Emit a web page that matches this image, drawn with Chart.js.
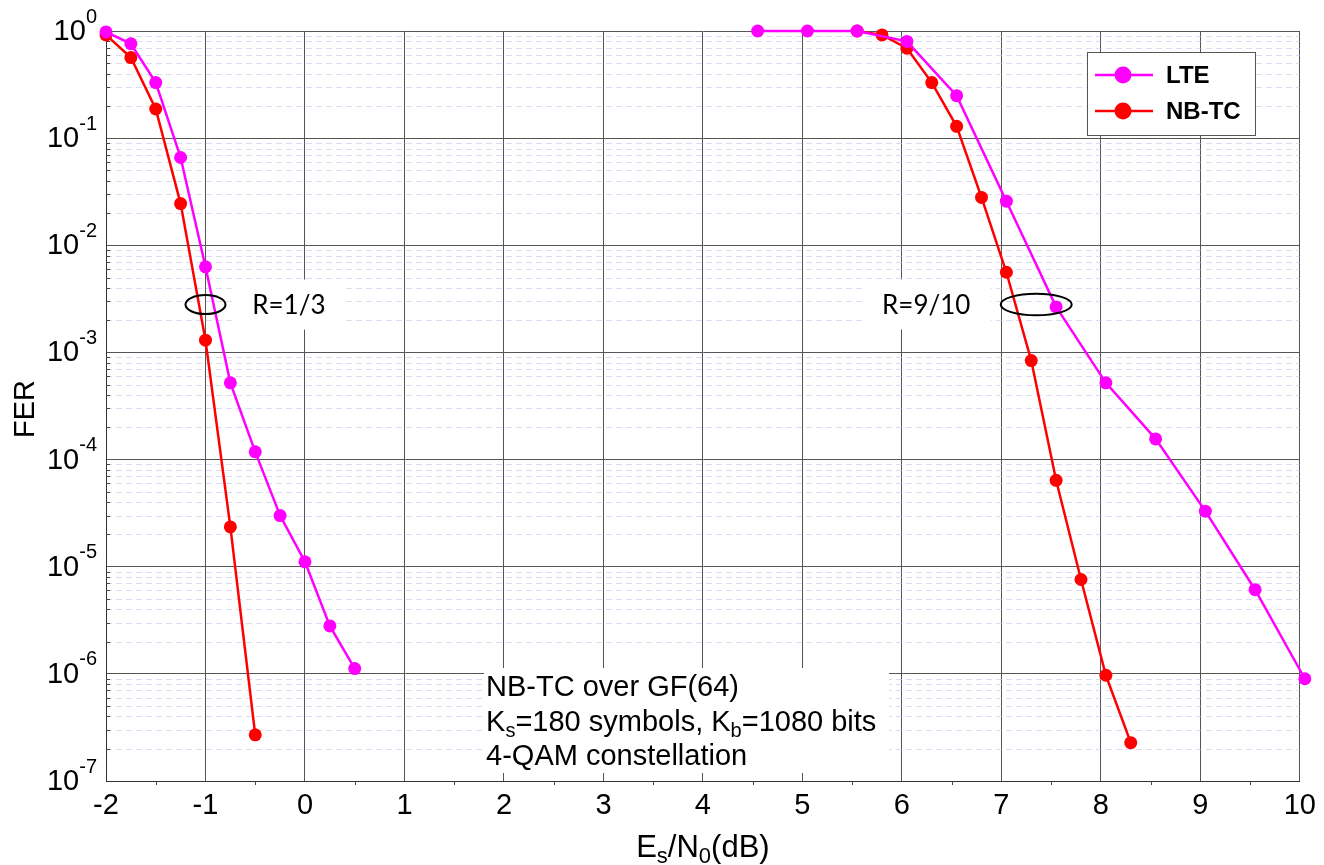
<!DOCTYPE html>
<html>
<head>
<meta charset="utf-8">
<script src="https://cdn.jsdelivr.net/npm/chart.js@4.4.0/dist/chart.umd.min.js"></script>
<style>
html, body { margin: 0; padding: 0; background: #fff; }
</style>
</head>
<body>
<canvas id="fer" width="1324" height="865"></canvas>
<script>
// R = 1/3 curves
var lteX13 = [-2, -1.75, -1.5, -1.25, -1, -0.75, -0.5, -0.25, 0, 0.25, 0.5];
var lteY13 = [0.98, 0.76, 0.33, 0.066, 0.0063, 5.2e-4, 1.18e-4, 3.0e-5, 1.11e-5, 2.8e-6, 1.12e-6];
var nbX13 = [-2, -1.75, -1.5, -1.25, -1, -0.75, -0.5];
var nbY13 = [0.92, 0.565, 0.187, 0.0245, 1.3e-3, 2.35e-5, 2.7e-7];
// R = 9/10 curves
var lteX910 = [4.55, 5.05, 5.55, 6.05, 6.55, 7.05, 7.55, 8.05, 8.55, 9.05, 9.55, 10.05];
var lteY910 = [1, 1, 1, 0.8, 0.249, 0.0258, 2.66e-3, 5.2e-4, 1.56e-4, 3.3e-5, 6.1e-6, 9.0e-7];
var nbX910 = [5.55, 5.8, 6.05, 6.3, 6.55, 6.8, 7.05, 7.3, 7.55, 7.8, 8.05, 8.3];
var nbY910 = [1, 0.92, 0.69, 0.33, 0.129, 0.028, 5.6e-3, 8.4e-4, 6.4e-5, 7.6e-6, 9.7e-7, 2.28e-7];

var xTicks = [-2, -1, 0, 1, 2, 3, 4, 5, 6, 7, 8, 9, 10];
var yExponents = [0, -1, -2, -3, -4, -5, -6, -7];
var seriesNames = ['LTE', 'NB-TC'];
var seriesColors = ['#ff00ff', '#ff0000'];

function pts(xs, ys) {
    return xs.map(function (x, i) { return { x: x, y: ys[i] }; });
}

function ds(label, color, data) {
    return {
        label: label,
        data: data,
        showLine: true,
        borderColor: color,
        backgroundColor: color,
        borderWidth: 2.5,
        pointRadius: 6.5,
        pointBorderWidth: 0,
        clip: false
    };
}

function isMajor(v) {
    var l = Math.log10(v);
    return Math.abs(l - Math.round(l)) < 1e-6;
}

// text with subscripts: parts = [[text, isSub], ...]
function drawRich(ctx, parts, x, y, size, subSize, align) {
    var total = 0;
    parts.forEach(function (p) {
        ctx.font = (p[1] ? subSize : size) + 'px "Liberation Sans", Arial, sans-serif';
        total += ctx.measureText(p[0]).width;
    });
    var cx = align === 'center' ? x - total / 2 : x;
    ctx.textAlign = 'left';
    ctx.textBaseline = 'alphabetic';
    parts.forEach(function (p) {
        ctx.font = (p[1] ? subSize : size) + 'px "Liberation Sans", Arial, sans-serif';
        ctx.fillText(p[0], cx, y + (p[1] ? size * 0.2 : 0));
        cx += ctx.measureText(p[0]).width;
    });
}

var decor = {
    id: 'decor',
    beforeDatasetsDraw: function (chart) {
        var ctx = chart.ctx, xs = chart.scales.x, ys = chart.scales.y, a = chart.chartArea;
        ctx.save();
        // minor dashed grid
        ctx.strokeStyle = 'rgba(195,195,235,0.6)';
        ctx.lineWidth = 1;
        ctx.setLineDash([6, 4]);
        ys.ticks.forEach(function (t) {
            if (isMajor(t.value)) return;
            var y = Math.round(ys.getPixelForValue(t.value)) + 0.5;
            ctx.beginPath(); ctx.moveTo(a.left, y); ctx.lineTo(a.right, y); ctx.stroke();
        });
        ctx.setLineDash([]);
        // minor tick marks
        ctx.strokeStyle = '#444';
        ys.ticks.forEach(function (t) {
            if (isMajor(t.value)) return;
            var y = Math.round(ys.getPixelForValue(t.value)) + 0.5;
            ctx.beginPath(); ctx.moveTo(a.left, y); ctx.lineTo(a.left + 4, y); ctx.stroke();
        });
        for (var v = -1.5; v < 10; v += 1) {
            var px = Math.round(xs.getPixelForValue(v)) + 0.5;
            ctx.beginPath(); ctx.moveTo(px, a.bottom); ctx.lineTo(px, a.bottom + 4); ctx.stroke();
        }
        // white boxes behind annotations
        ctx.fillStyle = '#fff';
        var y3 = ys.getPixelForValue(2.8e-3);
        var l1 = xs.getPixelForValue(-0.53);
        ctx.fillRect(l1 - 16, y3 - 25, 110, 50);
        var l2 = xs.getPixelForValue(5.8);
        ctx.fillRect(l2 - 16, y3 - 25, 125, 50);
        var bx = xs.getPixelForValue(1.82), by = ys.getPixelForValue(7.7e-7);
        ctx.fillRect(bx - 2, by - 18, 405, 105);
        // annotation texts
        ctx.fillStyle = '#000';
        ctx.font = '26px Lato, "Open Sans", sans-serif';
        ctx.textAlign = 'left';
        ctx.textBaseline = 'middle';
        ctx.fillText('R=1/3', l1, y3 + 1);
        ctx.fillText('R=9/10', l2, y3 + 1);
        var fs = 29, ss = 20;
        drawRich(ctx, [['NB-TC over GF(64)', false]], bx, by + 10, fs, ss);
        drawRich(ctx, [['K', false], ['s', true], ['=180 symbols, K', false], ['b', true], ['=1080 bits', false]], bx, by + 45, fs, ss);
        drawRich(ctx, [['4-QAM constellation', false]], bx, by + 79, fs, ss);
        ctx.restore();
    },
    afterDatasetsDraw: function (chart) {
        var ctx = chart.ctx, xs = chart.scales.x, ys = chart.scales.y;
        ctx.save();
        // ellipses
        ctx.strokeStyle = '#000';
        ctx.lineWidth = 2;
        var ey = ys.getPixelForValue(2.8e-3);
        ctx.beginPath();
        ctx.ellipse(xs.getPixelForValue(-1.0), ey, 20, 9.5, 0, 0, Math.PI * 2);
        ctx.stroke();
        ctx.beginPath();
        ctx.ellipse(xs.getPixelForValue(7.35), ey, 35.5, 10.8, 0, 0, Math.PI * 2);
        ctx.stroke();
        // legend box
        var lx = 1087, ly = 52, lw = 168, lh = 83;
        ctx.fillStyle = '#fff';
        ctx.fillRect(lx, ly, lw, lh);
        ctx.strokeStyle = '#555';
        ctx.lineWidth = 1;
        ctx.strokeRect(lx + 0.5, ly + 0.5, lw, lh);
        chart.data.datasets.slice(0, 2).forEach(function (d, i) {
            var y = ly + 23 + i * 36;
            ctx.strokeStyle = d.borderColor;
            ctx.lineWidth = 2.5;
            ctx.beginPath(); ctx.moveTo(lx + 8, y); ctx.lineTo(lx + 66, y); ctx.stroke();
            ctx.fillStyle = d.borderColor;
            ctx.beginPath(); ctx.arc(lx + 36, y, 8.5, 0, Math.PI * 2); ctx.fill();
            ctx.fillStyle = '#000';
            ctx.font = 'bold 24px "Liberation Sans", Arial, sans-serif';
            ctx.textAlign = 'left';
            ctx.textBaseline = 'middle';
            ctx.fillText(d.label, lx + 79, y + 1);
        });
        ctx.restore();
    },
    afterDraw: function (chart) {
        var ctx = chart.ctx, ys = chart.scales.y, a = chart.chartArea;
        ctx.save();
        ctx.fillStyle = '#000';
        // y tick labels 10^k
        yExponents.forEach(function (k) {
            var y = ys.getPixelForValue(Math.pow(10, k));
            var ex = k === 0 ? '0' : '-' + Math.abs(k);
            ctx.textBaseline = 'middle';
            ctx.textAlign = 'right';
            ctx.font = '20px "Liberation Sans", Arial, sans-serif';
            ctx.fillText(ex, a.left - 9, y - 14);
            var w = ctx.measureText(ex).width;
            ctx.font = '29px "Liberation Sans", Arial, sans-serif';
            ctx.fillText('10', a.left - 9 - w, y + 1);
        });
        // y title
        ctx.save();
        ctx.translate(26, (a.top + a.bottom) / 2 + 3);
        ctx.rotate(-Math.PI / 2);
        ctx.font = '29px "Liberation Sans", Arial, sans-serif';
        ctx.textAlign = 'center';
        ctx.textBaseline = 'middle';
        ctx.fillText('FER', 0, 0);
        ctx.restore();
        // x title
        drawRich(ctx, [['E', false], ['s', true], ['/N', false], ['0', true], ['(dB)', false]],
            (a.left + a.right) / 2, 857, 31, 22, 'center');
        ctx.restore();
    }
};

var ctx = document.getElementById('fer').getContext('2d');
var ferChart = new Chart(ctx, {
    type: 'scatter',
    data: {
        datasets: [
            ds(seriesNames[0], seriesColors[0], pts(lteX13, lteY13)),
            ds(seriesNames[1], seriesColors[1], pts(nbX13, nbY13)),
            ds(seriesNames[0], seriesColors[0], pts(lteX910, lteY910)),
            ds(seriesNames[1], seriesColors[1], pts(nbX910, nbY910))
        ]
    },
    options: {
        responsive: false,
        animation: false,
        layout: { padding: { left: 106, right: 19, top: 31, bottom: 0 } },
        plugins: { legend: { display: false }, tooltip: { enabled: false } },
        scales: {
            x: {
                type: 'linear',
                min: -2,
                max: 10,
                afterBuildTicks: function (s) { s.ticks = xTicks.map(function (v) { return { value: v }; }); },
                afterFit: function (s) { s.height = 84; },
                ticks: {
                    color: '#000',
                    padding: 8,
                    maxRotation: 0,
                    font: { family: '"Liberation Sans", Arial, sans-serif', size: 29 }
                },
                grid: { color: '#555', lineWidth: 1, drawTicks: false },
                border: { color: '#333', width: 1 }
            },
            y: {
                type: 'logarithmic',
                min: 1e-7,
                max: 1,
                afterBuildTicks: function (s) {
                    var t = [];
                    for (var k = -7; k <= 0; k++) {
                        for (var m = 1; m <= 9; m++) {
                            var v = m * Math.pow(10, k);
                            if (v <= 1.0000001) t.push({ value: v });
                        }
                    }
                    s.ticks = t;
                },
                afterFit: function (s) { s.width = 0; },
                ticks: { display: false },
                grid: {
                    drawTicks: false,
                    lineWidth: 1,
                    color: function (c) { return c.tick && isMajor(c.tick.value) ? '#555' : 'rgba(0,0,0,0)'; }
                },
                border: { color: '#333', width: 1 }
            }
        }
    },
    plugins: [decor]
});
</script>
</body>
</html>
